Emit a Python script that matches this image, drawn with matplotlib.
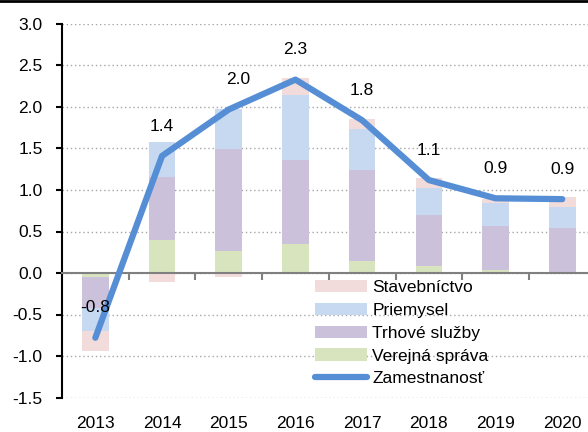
import numpy as np
import matplotlib
matplotlib.use('Agg')
import matplotlib.pyplot as plt
from matplotlib.lines import Line2D

plt.rcParams['font.family'] = ['Liberation Sans', 'DejaVu Sans']
plt.rcParams['font.size'] = 12.5

# Data
years = ['2013', '2014', '2015', '2016', '2017', '2018', '2019', '2020']
verejna_sprava = [-0.05, 0.40, 0.26, 0.35, 0.14, 0.09, 0.04, 0.00]
trhove_sluzby = [-0.37, 0.76, 1.23, 1.01, 1.10, 0.61, 0.53, 0.54]
priemysel = [-0.28, 0.42, 0.49, 0.78, 0.49, 0.32, 0.27, 0.26]
stavebnictvo = [-0.24, -0.11, -0.05, 0.21, 0.13, 0.12, 0.05, 0.11]
zamestnanost = [-0.78, 1.41, 1.97, 2.33, 1.84, 1.12, 0.90, 0.89]

series = [
    ('Verejná správa', verejna_sprava, '#d7e4bd'),
    ('Trhové služby', trhove_sluzby, '#ccc1da'),
    ('Priemysel', priemysel, '#c6d9f1'),
    ('Stavebníctvo', stavebnictvo, '#f2dcdb'),
]
line_color = '#558ed5'

fig = plt.figure(figsize=(5.88, 4.32), dpi=100)
ax = fig.add_axes([62 / 588, 1 - 397.5 / 432, (588 - 62) / 588, (397.5 - 24) / 432])

x = np.arange(len(years))

# stacked bars, positives up and negatives down
pos_base = np.zeros(len(years))
neg_base = np.zeros(len(years))
bars = {}
for name, vals, color in series:
    vals = np.array(vals)
    bottom = np.where(vals >= 0, pos_base, neg_base)
    bars[name] = ax.bar(x, vals, width=0.4, bottom=bottom, color=color, zorder=2)
    pos_base += np.where(vals >= 0, vals, 0)
    neg_base += np.where(vals < 0, vals, 0)

line, = ax.plot(x, zamestnanost, color=line_color, lw=4.5, solid_capstyle='round',
                solid_joinstyle='round', zorder=3)

# value labels above the line
label_dx = [0, 0, 6.5, 0, 0, 0, 0, 0]
for xi, v, dx in zip(x, zamestnanost, label_dx):
    ax.annotate(f'{v:.1f}', (xi, v), xytext=(dx, 21.5), textcoords='offset points',
                ha='center', va='center', fontsize=12.5)

ax.set_ylim(-1.5, 3.0)
ax.set_yticks(np.arange(-1.5, 3.01, 0.5))
ax.set_yticklabels([f'{t:.1f}' for t in np.arange(-1.5, 3.01, 0.5)])
ax.set_xlim(-0.5, 7.386)

ax.grid(axis='y', linestyle=(0, (1, 2)), color='#a6a6a6', lw=1.0)
ax.set_axisbelow(True)

for s in ['top', 'right']:
    ax.spines[s].set_visible(False)
ax.spines['left'].set_linewidth(1.5)
ax.spines['bottom'].set_position(('data', 0))
ax.spines['bottom'].set_color('#808080')
ax.spines['bottom'].set_linewidth(1.5)
ax.spines['bottom'].set_zorder(2.5)

ax.set_xticks(x[:-1] + 0.5)
ax.set_xticklabels([])
ax.tick_params(axis='x', direction='out', length=5, width=1.5, color='#808080')
ax.tick_params(axis='y', direction='out', length=4, width=1.5, pad=10)

sec = ax.secondary_xaxis('bottom')
sec.set_xticks(x, years)
sec.tick_params(length=0, pad=13)
sec.spines['bottom'].set_visible(False)

handles = [bars['Stavebníctvo'], bars['Priemysel'], bars['Trhové služby'],
           bars['Verejná správa'],
           Line2D([], [], color=line_color, lw=4.5, solid_capstyle='round')]
labels = ['Stavebníctvo', 'Priemysel', 'Trhové služby', 'Verejná správa', 'Zamestnanosť']
fig.legend(handles, labels, loc='upper left', bbox_to_anchor=(315 / 588, 1 - 280 / 432),
           frameon=False, handlelength=3.0, handleheight=0.7, handletextpad=0.3,
           labelspacing=0.44, borderpad=0, borderaxespad=0, fontsize=12.5)

# border line along the top edge
fig.add_artist(Line2D([0, 1], [1 - 1.4 / 432, 1 - 1.4 / 432], color='black', lw=2,
                      transform=fig.transFigure))

fig.savefig('out.png', dpi=100)
